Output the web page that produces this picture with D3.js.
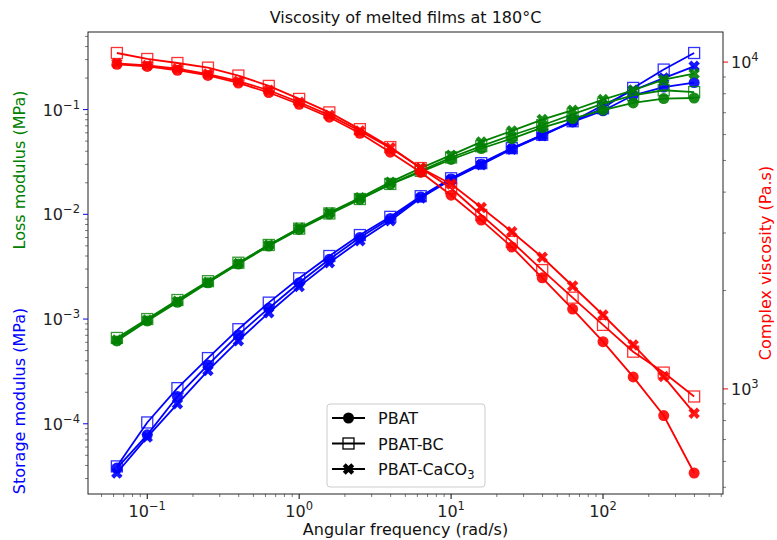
<!DOCTYPE html>
<html>
<head>
<meta charset="utf-8">
<script src="https://cdn.jsdelivr.net/npm/d3@7"></script>
<style>
  body { margin: 0; background: #fff; }
  text { font-family: "DejaVu Sans", sans-serif; }
</style>
</head>
<body>
<div id="chart"></div>
<script>
// Angular frequency (rad/s)
const freq = [0.0631, 0.1, 0.158, 0.251, 0.398, 0.631, 1, 1.58, 2.51, 3.98,
              6.31, 10, 15.8, 25.1, 39.8, 63.1, 100, 158, 251, 398];

const samples = ["PBAT", "PBAT-BC", "PBAT-CaCO3"];

// Storage modulus (MPa), blue
const storagePBAT  = [3.78e-5, 7.85e-5, 1.82e-4, 3.65e-4, 7.06e-4, 1.27e-3, 2.22e-3, 3.72e-3, 6.02e-3, 9.14e-3,
                      1.46e-2, 2.17e-2, 3.01e-2, 4.24e-2, 5.69e-2, 7.62e-2, 9.75e-2, 0.137, 0.164, 0.181];
const storageBC    = [3.92e-5, 1.03e-4, 2.19e-4, 4.24e-4, 8.0e-4, 1.435e-3, 2.45e-3, 4.0e-3, 6.34e-3, 9.46e-3,
                      1.49e-2, 2.21e-2, 3.08e-2, 4.28e-2, 5.75e-2, 7.74e-2, 0.103, 0.161, 0.241, 0.347];
const storageCaCO3 = [3.39e-5, 7.46e-5, 1.55e-4, 3.22e-4, 6.22e-4, 1.15e-3, 2.04e-3, 3.45e-3, 5.6e-3, 8.67e-3,
                      1.43e-2, 2.14e-2, 2.98e-2, 4.19e-2, 5.62e-2, 7.74e-2, 0.110, 0.153, 0.200, 0.259];

// Loss modulus (MPa), green
const lossPBAT  = [6.18e-4, 9.59e-4, 1.445e-3, 2.22e-3, 3.35e-3, 4.98e-3, 7.18e-3, 1.005e-2, 1.387e-2, 1.928e-2,
                   2.54e-2, 3.34e-2, 4.25e-2, 5.29e-2, 6.74e-2, 8.21e-2, 9.86e-2, 0.1157, 0.1274, 0.129];
const lossBC    = [6.6e-4, 1.0e-3, 1.52e-3, 2.3e-3, 3.45e-3, 5.1e-3, 7.3e-3, 1.02e-2, 1.4e-2, 1.95e-2,
                   2.6e-2, 3.49e-2, 4.47e-2, 5.69e-2, 7.09e-2, 9.03e-2, 0.114, 0.137, 0.153, 0.147];
const lossCaCO3 = [6.3e-4, 9.8e-4, 1.48e-3, 2.25e-3, 3.4e-3, 5.1e-3, 7.4e-3, 1.038e-2, 1.44e-2, 2.03e-2,
                   2.76e-2, 3.67e-2, 4.91e-2, 6.25e-2, 8.03e-2, 9.86e-2, 0.1247, 0.153, 0.193, 0.220];

// Complex viscosity (Pa.s), red
const viscPBAT  = [9846, 9700, 9441, 9100, 8630, 8070, 7430, 6780, 6055, 5300,
                   4600, 3915, 3285, 2718, 2188, 1755, 1395, 1088, 829, 553];
const viscBC    = [10660, 10220, 9935, 9615, 9095, 8455, 7715, 7015, 6235, 5495,
                   4740, 4110, 3405, 2820, 2310, 1902, 1570, 1300, 1122, 948];
const viscCaCO3 = [9910, 9770, 9540, 9190, 8740, 8200, 7535, 6880, 6150, 5465,
                   4740, 4235, 3590, 3025, 2528, 2065, 1683, 1363, 1091, 843];

const W = 777, H = 540;
const margin = { top: 32, right: 54, bottom: 46, left: 88 };

const svg = d3.select("#chart").append("svg")
    .attr("width", W).attr("height", H);

// log extent with 5% padding like matplotlib
function logDomain(values) {
    const lo = Math.log10(d3.min(values)), hi = Math.log10(d3.max(values));
    const pad = (hi - lo) * 0.05;
    return [Math.pow(10, lo - pad), Math.pow(10, hi + pad)];
}

const x = d3.scaleLog().domain(logDomain(freq)).range([margin.left, W - margin.right]);
const yL = d3.scaleLog()
    .domain(logDomain([].concat(storagePBAT, storageBC, storageCaCO3, lossPBAT, lossBC, lossCaCO3)))
    .range([H - margin.bottom, margin.top]);
const yR = d3.scaleLog()
    .domain(logDomain([].concat(viscPBAT, viscBC, viscCaCO3)))
    .range([H - margin.bottom, margin.top]);

const x0 = margin.left, x1 = W - margin.right, y0 = margin.top, y1 = H - margin.bottom;

// Marker shapes
function xPath(h, t) {
    return `M${-t},${-h}L${t},${-h}L${t},${-t}L${h},${-t}L${h},${t}L${t},${t}L${t},${h}L${-t},${h}L${-t},${t}L${-h},${t}L${-h},${-t}L${-t},${-t}Z`;
}
function drawMarker(g, shape, color) {
    if (shape === "circle") {
        g.append("circle").attr("r", 5.5).attr("fill", color);
    } else if (shape === "square") {
        g.append("rect").attr("x", -5.5).attr("y", -5.5).attr("width", 11).attr("height", 11)
            .attr("fill", "none").attr("stroke", color).attr("stroke-width", 1.3);
    } else {
        g.append("path").attr("d", xPath(6, 2.1)).attr("transform", "rotate(45)").attr("fill", color);
    }
}
const shapes = ["circle", "square", "x"];

// Axes ticks (minor)
function minorTicks(scale) {
    const [a, b] = scale.domain();
    const out = [];
    for (let e = Math.floor(Math.log10(a)); e <= Math.ceil(Math.log10(b)); e++) {
        for (let m = 1; m <= 9; m++) {
            const v = m * Math.pow(10, e);
            if (v >= a && v <= b) out.push({ v, major: m === 1 });
        }
    }
    return out;
}

const sup = (g, v) => {
    const e = Math.round(Math.log10(v));
    g.append("tspan").text("10");
    g.append("tspan").attr("dy", -7).attr("font-size", 11.5).text(String(e).replace("-", "\u2212"));
};

const axes = svg.append("g");

// x ticks
minorTicks(x).forEach(t => {
    axes.append("line").attr("x1", x(t.v)).attr("x2", x(t.v))
        .attr("y1", y1).attr("y2", y1 + (t.major ? 5 : 3))
        .attr("stroke", t.major ? "#000" : "#444").attr("stroke-width", t.major ? 1 : 0.7);
    if (t.major) {
        const tx = axes.append("text").attr("x", x(t.v)).attr("y", y1 + 23)
            .attr("text-anchor", "middle").attr("font-size", 16).attr("fill", "#222");
        sup(tx, t.v);
    }
});

// left y ticks
minorTicks(yL).forEach(t => {
    axes.append("line").attr("x1", x0).attr("x2", x0 - (t.major ? 5 : 3))
        .attr("y1", yL(t.v)).attr("y2", yL(t.v))
        .attr("stroke", t.major ? "blue" : "#444").attr("stroke-width", t.major ? 1 : 0.7);
    if (t.major) {
        const tx = axes.append("text").attr("x", x0 - 8).attr("y", yL(t.v) + 6)
            .attr("text-anchor", "end").attr("font-size", 16).attr("fill", "#222");
        sup(tx, t.v);
    }
});

// right y ticks
minorTicks(yR).forEach(t => {
    axes.append("line").attr("x1", x1).attr("x2", x1 + (t.major ? 5 : 3))
        .attr("y1", yR(t.v)).attr("y2", yR(t.v))
        .attr("stroke", t.major ? "red" : "#444").attr("stroke-width", t.major ? 1 : 0.7);
    if (t.major) {
        const tx = axes.append("text").attr("x", x1 + 8).attr("y", yR(t.v) + 6)
            .attr("text-anchor", "start").attr("font-size", 16).attr("fill", "#222");
        sup(tx, t.v);
    }
});

// Series
const groups = [
    { axis: yL, color: "blue",  data: [storagePBAT, storageBC, storageCaCO3] },
    { axis: yL, color: "green", data: [lossPBAT, lossBC, lossCaCO3] },
    { axis: yR, color: "red",   data: [viscPBAT, viscBC, viscCaCO3] }
];

const plot = svg.append("g");
groups.forEach(grp => {
    grp.data.forEach((vals, si) => {
        const pts = freq.map((f, i) => [f, vals[i]]);
        const line = d3.line().x(d => x(d[0])).y(d => grp.axis(d[1]));
        plot.append("path").datum(pts).attr("d", line)
            .attr("fill", "none").attr("stroke", grp.color).attr("stroke-width", 1.8);
        pts.forEach(d => {
            const g = plot.append("g").attr("transform", `translate(${x(d[0])},${grp.axis(d[1])})`)
                .attr("opacity", si === 1 ? 0.8 : 0.9);
            drawMarker(g, shapes[si], grp.color);
        });
    });
});

// Frame
axes.append("rect").attr("x", x0).attr("y", y0).attr("width", x1 - x0).attr("height", y1 - y0)
    .attr("fill", "none").attr("stroke", "#222").attr("stroke-width", 1);

// Title and labels
svg.append("text").attr("x", (x0 + x1) / 2).attr("y", 23).attr("text-anchor", "middle")
    .attr("font-size", 16).attr("fill", "#111").text("Viscosity of melted films at 180°C");
svg.append("text").attr("x", (x0 + x1) / 2).attr("y", 535).attr("text-anchor", "middle")
    .attr("font-size", 16).attr("fill", "#111").text("Angular frequency (rad/s)");
svg.append("text").attr("transform", "translate(25,170) rotate(-90)").attr("text-anchor", "middle")
    .attr("font-size", 16).attr("fill", "green").text("Loss modulus (MPa)");
svg.append("text").attr("transform", "translate(25,401) rotate(-90)").attr("text-anchor", "middle")
    .attr("font-size", 16).attr("fill", "blue").text("Storage modulus (MPa)");
svg.append("text").attr("transform", `translate(771,${(y0 + y1) / 2}) rotate(-90)`).attr("text-anchor", "middle")
    .attr("font-size", 16).attr("fill", "red").text("Complex viscosity (Pa.s)");

// Legend
const leg = svg.append("g").attr("transform", "translate(327,404)");
leg.append("rect").attr("width", 158).attr("height", 83).attr("rx", 3)
    .attr("fill", "#fff").attr("fill-opacity", 0.8).attr("stroke", "#ccc");
samples.forEach((s, i) => {
    const ly = 14 + i * 25.5;
    leg.append("line").attr("x1", 5).attr("x2", 38).attr("y1", ly).attr("y2", ly)
        .attr("stroke", "#000").attr("stroke-width", 1.8);
    const g = leg.append("g").attr("transform", `translate(21.5,${ly})`);
    drawMarker(g, shapes[i], "#000");
    const t = leg.append("text").attr("x", 51).attr("y", ly + 6).attr("font-size", 16).attr("fill", "#111");
    if (s === "PBAT-CaCO3") {
        t.append("tspan").text("PBAT-CaCO");
        t.append("tspan").attr("dy", 4).attr("font-size", 11.5).text("3");
    } else {
        t.text(s);
    }
});
</script>
</body>
</html>
